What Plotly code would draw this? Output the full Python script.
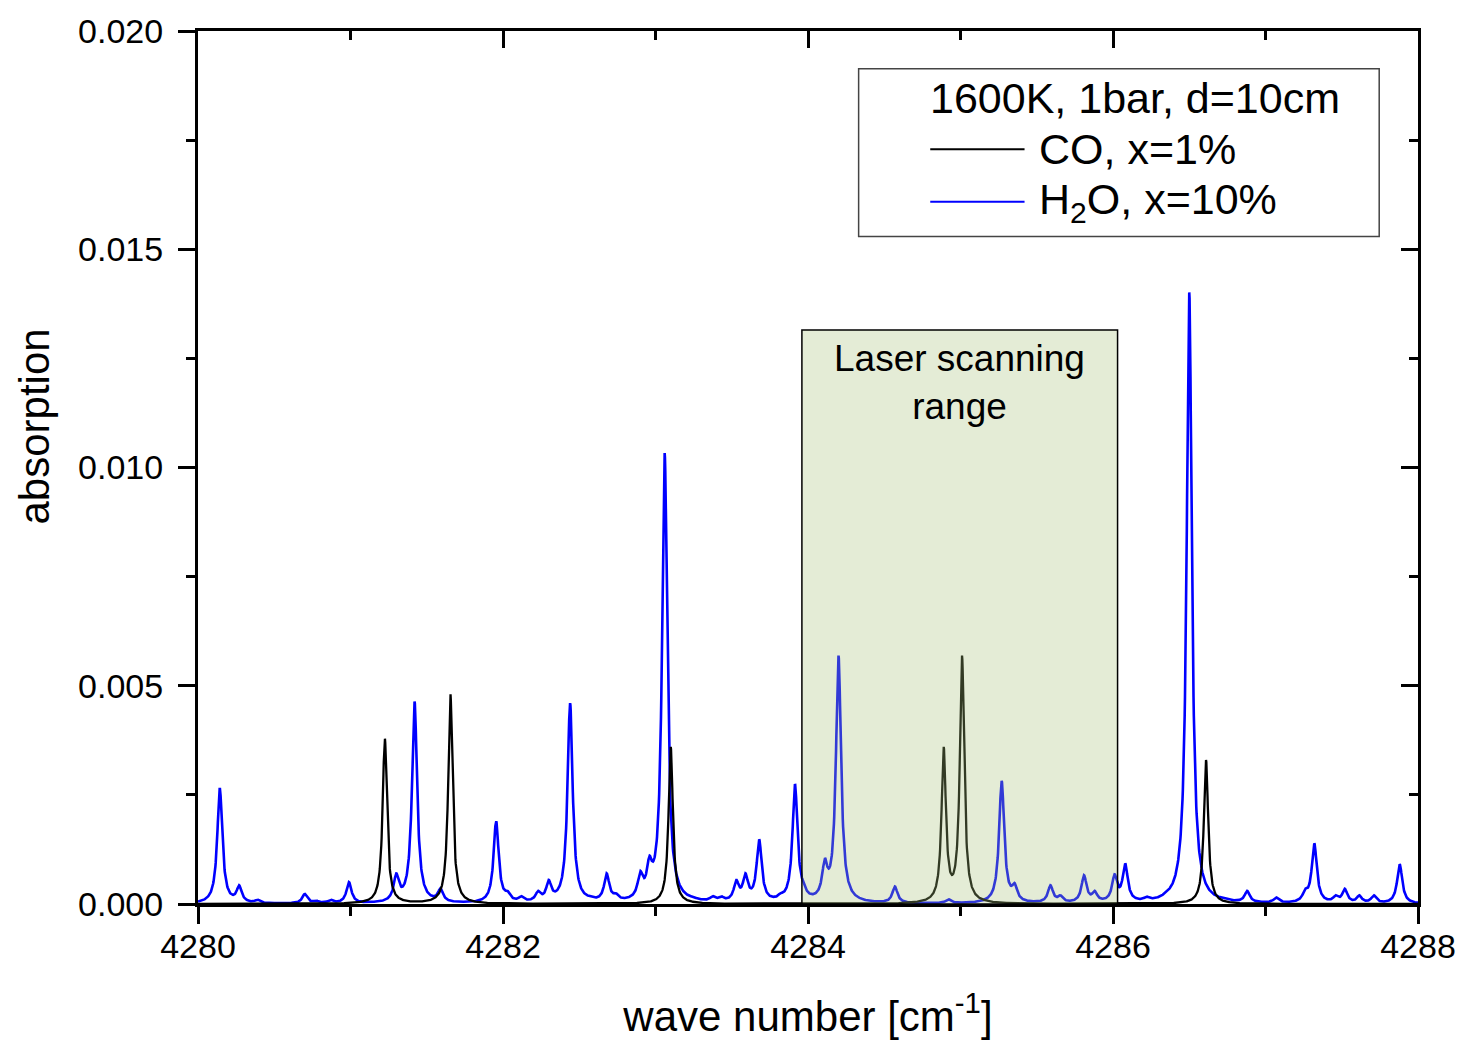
import numpy as np
import plotly.graph_objects as go

# ---------------- data ----------------
# H2O absorption lines: centre wavenumber [cm-1] and observed peak absorption
h2o_centers = [4280.143, 4280.27, 4280.39, 4280.70, 4280.775, 4280.87, 4280.99,
               4281.30, 4281.42, 4281.59, 4281.955, 4282.03, 4282.12, 4282.23,
               4282.30, 4282.44, 4282.57, 4282.68, 4282.74, 4282.90, 4282.96,
               4283.06, 4283.25, 4283.375, 4283.43, 4283.53, 4283.59, 4283.68,
               4283.82, 4283.915, 4283.97, 4284.11, 4284.20, 4284.57, 4284.92,
               4285.27, 4285.355, 4285.59, 4285.655, 4285.81, 4285.88, 4286.01,
               4286.08, 4286.22, 4286.35, 4286.50, 4286.72, 4286.88, 4287.07,
               4287.26, 4287.32, 4287.46, 4287.52, 4287.615, 4287.71, 4287.88]
h2o_peaks = [0.00264, 0.00043, 0.00010, 0.00023, 0.00008, 0.00010, 0.00050,
             0.00070, 0.00464, 0.00036, 0.00190, 0.00030, 0.00018, 0.00030,
             0.00055, 0.00460, 0.00015, 0.00070, 0.00025, 0.00075, 0.00110,
             0.01033, 0.00016, 0.00018, 0.00018, 0.00055, 0.00070, 0.00148,
             0.00025, 0.00273, 0.00050, 0.00105, 0.00569, 0.00040, 0.00011,
             0.00282, 0.00048, 0.00043, 0.00020, 0.00066, 0.00030, 0.00068,
             0.00093, 0.00017, 0.00022, 0.01401, 0.00015, 0.00030, 0.00015,
             0.00035, 0.00139, 0.00020, 0.00035, 0.00020, 0.00020, 0.00091]

# CO absorption lines
co_centers = [4281.225, 4281.655, 4283.10, 4284.89, 4285.01, 4286.61]
co_peaks = [0.00380, 0.00482, 0.00360, 0.00360, 0.00569, 0.00330]

# line half widths [cm-1]
h2o_hwhm = 0.020
co_hwhm = 0.017

# laser scanning range and height of the shaded box
laser_range = [4283.96, 4286.03]
laser_box_top = 0.01315

x_range = [4280, 4288]
y_range = [0.0, 0.020]
x_ticks = [4280, 4282, 4284, 4286, 4288]
y_ticks = [0.000, 0.005, 0.010, 0.015, 0.020]

legend_title = "1600K, 1bar, d=10cm"
co_label = "CO, x=1%"
h2o_label = "H<sub>2</sub>O, x=10%"

# ---------------- spectra from the line lists ----------------
wn = np.linspace(x_range[0], x_range[1], 4001)


def spectrum(centers, peaks, hw):
    c = np.asarray(centers)
    h = np.asarray(peaks)
    # amplitudes so that the summed profile reaches the observed peak values
    m = 1.0 / (1.0 + ((c[:, None] - c[None, :]) / hw) ** 2)
    a = np.linalg.solve(m, h)
    a = np.maximum(a, 0.15 * h)
    prof = 1.0 / (1.0 + ((wn[:, None] - c[None, :]) / hw) ** 2)
    return prof @ a


h2o = spectrum(h2o_centers, h2o_peaks, h2o_hwhm)
co = spectrum(co_centers, co_peaks, co_hwhm)

FONT = "Arial, Liberation Sans, sans-serif"

fig = go.Figure()
fig.add_trace(go.Scatter(x=wn, y=h2o, mode="lines", name="H2O, x=10%",
                         line=dict(color="#0000ff", width=2.6), showlegend=False))
fig.add_trace(go.Scatter(x=wn, y=co, mode="lines", name="CO, x=1%",
                         line=dict(color="#000000", width=2.3), showlegend=False))
# invisible traces to bind the extra tick axes (top, right, bottom ticks)
fig.add_trace(go.Scatter(x=[x_range[0]], y=[y_range[0]], xaxis="x2", yaxis="y2",
                         mode="markers", marker=dict(opacity=0), hoverinfo="skip",
                         showlegend=False))
fig.add_trace(go.Scatter(x=[x_range[0]], y=[y_range[0]], xaxis="x3", yaxis="y",
                         mode="markers", marker=dict(opacity=0), hoverinfo="skip",
                         showlegend=False))

axis_common = dict(showgrid=False, zeroline=False, showline=True, linewidth=3,
                   linecolor="black", tickwidth=3, tickcolor="black", ticklen=17)

fig.update_layout(
    width=1468, height=1044,
    margin=dict(l=198, r=42, t=27, b=138),
    paper_bgcolor="white", plot_bgcolor="white",
    font=dict(family=FONT, color="black"),
    # bottom axis: labels only (ticks drawn by xaxis3)
    xaxis=dict(range=x_range, tickvals=x_ticks, ticks="",
               tickfont=dict(size=34), ticklabelstandoff=10,
               title=dict(text="wave number [cm<sup>-1</sup>]", font=dict(size=42), standoff=38),
               showgrid=False, zeroline=False, showline=True, linewidth=3, linecolor="black"),
    xaxis3=dict(range=x_range, overlaying="x", side="bottom", tickvals=x_ticks, ticks="outside",
                showticklabels=False,
                minor=dict(dtick=1, ticks="outside", ticklen=9, tickwidth=3, tickcolor="black"),
                **axis_common),
    yaxis=dict(range=y_range, tickvals=y_ticks, tickformat=".3f", ticks="outside",
               tickfont=dict(size=34), ticklabelstandoff=8,
               minor=dict(dtick=0.0025, ticks="outside", ticklen=9, tickwidth=3, tickcolor="black"),
               **axis_common),
    xaxis2=dict(range=x_range, overlaying="x", side="top", tickvals=x_ticks, ticks="inside",
                showticklabels=False,
                minor=dict(dtick=1, ticks="inside", ticklen=9, tickwidth=3, tickcolor="black"),
                **axis_common),
    yaxis2=dict(range=y_range, overlaying="y", side="right", tickvals=y_ticks, ticks="inside",
                showticklabels=False,
                minor=dict(dtick=0.0025, ticks="inside", ticklen=9, tickwidth=3, tickcolor="black"),
                **axis_common),
)

# y-axis title (placed above the plot centre, as in the original)
fig.add_annotation(xref="paper", yref="paper", x=-0.1344, y=0.547, text="absorption",
                   textangle=-90, showarrow=False, xanchor="center", yanchor="middle",
                   font=dict(size=42, family=FONT, color="black"))

# laser scanning range box
fig.add_shape(type="rect", xref="x", yref="y",
              x0=laser_range[0], x1=laser_range[1], y0=y_range[0], y1=laser_box_top,
              fillcolor="rgba(165,192,118,0.30)", line=dict(color="black", width=1.5),
              layer="above")
fig.add_annotation(xref="x", yref="y", x=sum(laser_range) / 2, y=laser_box_top,
                   yanchor="top", yshift=-6,
                   text="Laser scanning<br>range", showarrow=False,
                   font=dict(size=37, family=FONT, color="black"), align="center")

# legend box drawn by hand
fig.add_shape(type="rect", xref="paper", yref="paper", x0=0.5415, x1=0.9682,
              y0=0.7645, y1=0.9568, line=dict(color="#444444", width=1.5),
              fillcolor="white", layer="above")
fig.add_annotation(xref="paper", yref="paper", x=0.7684, y=0.9238, text=legend_title,
                   showarrow=False, xanchor="center", yanchor="middle",
                   font=dict(size=43, family=FONT, color="black"))
for yy, col, lab in [(0.8646, "black", co_label), (0.8043, "#0000ff", h2o_label)]:
    fig.add_shape(type="line", xref="paper", yref="paper", x0=0.6002, x1=0.6775,
                  y0=yy, y1=yy, line=dict(color=col, width=2), layer="above")
    fig.add_annotation(xref="paper", yref="paper", x=0.6881, y=yy, text=lab,
                       showarrow=False, xanchor="left", yanchor="middle",
                       font=dict(size=43, family=FONT, color="black"))

fig.write_html("out.html")
